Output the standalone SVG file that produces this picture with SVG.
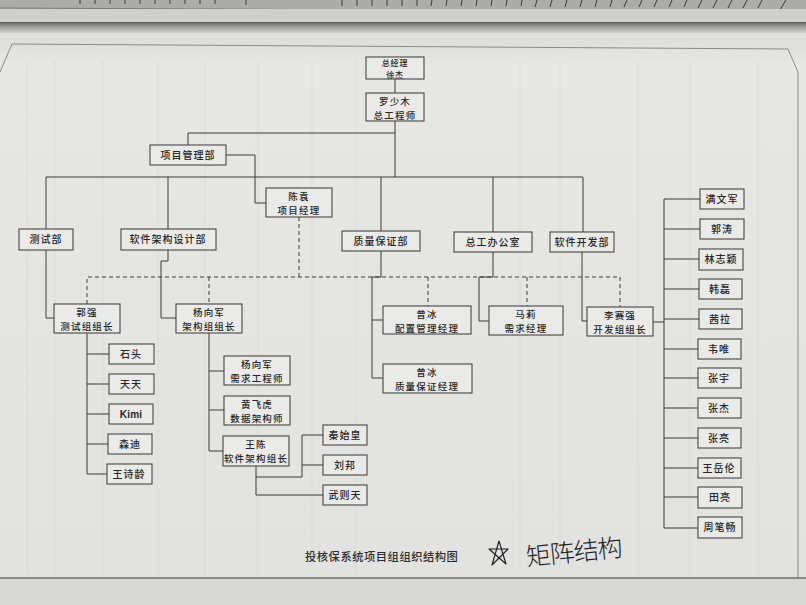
<svg xmlns="http://www.w3.org/2000/svg" width="806" height="605" viewBox="0 0 806 605">
  <defs>
    <linearGradient id="shadow" x1="0" y1="0" x2="0" y2="1">
      <stop offset="0" stop-color="#5e5e5a"/>
      <stop offset="0.35" stop-color="#9a9a96"/>
      <stop offset="1" stop-color="#d8d8d4"/>
    </linearGradient>
    <linearGradient id="page" x1="0" y1="0" x2="0" y2="1">
      <stop offset="0" stop-color="#dcdcd8"/>
      <stop offset="0.06" stop-color="#e7e7e4"/>
      <stop offset="1" stop-color="#e2e2e0"/>
    </linearGradient>
    <style>
      .box { fill: #eaeae8; stroke: #454545; stroke-width: 1.1; }
      .t { font-family: "Noto Sans CJK SC", "Noto Sans", sans-serif; font-weight: 500; font-size: 10px; fill: #262626; text-anchor: middle; letter-spacing: 1px; }
      .t2 { font-size: 9.5px; letter-spacing: 1.2px; }
      .ts { font-size: 8px; letter-spacing: 0.8px; }
      .k { font-family: "Liberation Sans", Arial, sans-serif; font-weight: bold; font-size: 10px; letter-spacing: 0.2px; }
      .ln { fill: none; stroke: #3a3a3a; stroke-width: 1; }
      .dash { fill: none; stroke: #3a3a3a; stroke-width: 1; stroke-dasharray: 4 3; }
      .ghost { stroke: #d4d4d2; stroke-width: 1.2; }
      .tick { stroke: #3a3a3a; stroke-width: 1; }
    </style>
  </defs>

  <!-- paper background -->
  <rect x="0" y="0" width="806" height="605" fill="#d9d9d7"/>
  <rect x="0" y="0" width="806" height="10" fill="#acacaa"/>
  <g class="tick">
    <path d="M80 0v4M95 0v4M110 0v4M125 0v4M140 0v4M155 0v4M170 0v4M185 0v4M200 0v4M215 0v4M246 0v5"/>
    <path d="M342 0v6M357 0v6M372 0v6M387 0v6M402 0v6M417 0v6M432 0l-1 6M447 0l-1 6M462 0l-1 6M477 0l-1 6M492 0l-1 6M507 0l-1 6M522 0l-1 6M537 0l-2 7M552 0l-2 7M567 0l-2 7M582 0l-2 7M597 0l-2 7M612 0l-2 7M627 0l-3 7M642 0l-3 7M657 0l-3 7M672 0l-3 7M687 0l-3 7M702 0l-4 8M717 0l-4 8M732 0l-4 8M747 0l-4 8M762 0l-4 8M786 0l-8 13"/>
  </g>
  <path d="M0 8 L806 12" stroke="#7a7a78" stroke-width="1"/>
  <rect x="0" y="9" width="806" height="14" fill="#cfcfcc"/>
  <rect x="0" y="22" width="806" height="12" fill="url(#shadow)"/>
  <rect x="0" y="33" width="806" height="545" fill="url(#page)"/>

  <!-- faint show-through of the reverse side -->
  <g class="ghost" opacity="0.4">
    <path d="M27 60V575M55 60V575M103 60V575M158 60V575M205 60V575M258 60V575M312 60V575M356 60V575M520 60V575M560 60V575M638 60V575M690 60V575M758 60V575"/>
  </g>

  <!-- page frame -->
  <path d="M0 72 L12 44 L788 49 L798 72 L798 578" fill="none" stroke="#8a8a88" stroke-width="1"/>
  <path d="M0 578 L806 578" stroke="#6e6e6c" stroke-width="1.3"/>
  <rect x="0" y="579" width="806" height="26" fill="#d8d8d6"/>

  <!-- connectors -->
  <g id="connectors">
    <path class="ln" d="M395 79V93"/>
    <path class="ln" d="M395 121V177"/>
    <path class="ln" d="M395 133H188V145"/>
    <path class="ln" d="M226 155H255V203H266"/>
    <path class="ln" d="M46 177H583"/>
    <path class="ln" d="M46 177V229M168 177V229M381 177V231M493 177V232M583 177V232"/>
    <path class="ln" d="M46 250V318H54"/>
    <path class="ln" d="M168 250V261H161V318H176"/>
    <path class="ln" d="M381 251V277H372V378H383M372 320H383"/>
    <path class="ln" d="M493 252V277H479V321H489"/>
    <path class="ln" d="M582 252V321H587"/>
    <path class="ln" d="M653 322H664"/>
    <path class="ln" d="M664 199V528"/>
    <path class="ln" d="M664 199H700M664 229H700M664 259H699M664 289H699M664 319H699M664 349H698M664 378H698M664 408H698M664 438H698M664 468H698M664 497H698M664 528H698"/>
    <path class="ln" d="M87 333V474H107M87 354H109M87 384H109M87 414H109M87 444H108"/>
    <path class="ln" d="M209 333V451H223M209 371H224M209 410H224"/>
    <path class="ln" d="M256 466V495H323M256 477H302V435H323M302 465H323"/>
    <path class="dash" d="M87 304V277H620V307"/>
    <path class="dash" d="M209 277V304M299 217V277M428 277V306M527 277V306"/>
  </g>

  <!-- management -->
  <g id="n-zongjingli"><rect class="box" x="366" y="57" width="58" height="22"/><text class="t ts" x="395" y="66.3">总经理</text><text class="t ts" x="395" y="78">徐杰</text></g>
  <g id="n-luoshaomu"><rect class="box" x="366" y="93" width="58" height="28"/><text class="t t2" x="395" y="104.5">罗少木</text><text class="t t2" x="395" y="118.5">总工程师</text></g>
  <g id="n-xiangmuguanlibu"><rect class="box" x="150" y="145" width="76" height="20"/><text class="t" x="188" y="159">项目管理部</text></g>
  <g id="n-chenyuan"><rect class="box" x="266" y="188" width="66" height="29"/><text class="t t2" x="299" y="199.8">陈袁</text><text class="t t2" x="299" y="213.8">项目经理</text></g>

  <!-- departments -->
  <g id="n-ceshibu"><rect class="box" x="19" y="229" width="54" height="21"/><text class="t" x="46" y="243">测试部</text></g>
  <g id="n-jiagoubu"><rect class="box" x="121" y="229" width="95" height="21"/><text class="t" x="168" y="243">软件架构设计部</text></g>
  <g id="n-zhiliangbu"><rect class="box" x="342" y="231" width="78" height="20"/><text class="t" x="381" y="245">质量保证部</text></g>
  <g id="n-zonggongban"><rect class="box" x="454" y="232" width="78" height="20"/><text class="t" x="493" y="246">总工办公室</text></g>
  <g id="n-kaifabu"><rect class="box" x="550" y="232" width="64" height="20"/><text class="t" x="582" y="246">软件开发部</text></g>

  <!-- group leads and managers -->
  <g id="n-guoqiang"><rect class="box" x="54" y="304" width="66" height="29"/><text class="t t2" x="87" y="315.8">郭强</text><text class="t t2" x="87" y="329.8">测试组组长</text></g>
  <g id="n-yangxiangjun"><rect class="box" x="176" y="304" width="66" height="29"/><text class="t t2" x="209" y="315.8">杨向军</text><text class="t t2" x="209" y="329.8">架构组组长</text></g>
  <g id="n-zengbing-pz"><rect class="box" x="383" y="306" width="88" height="28"/><text class="t t2" x="427" y="317.5">曾冰</text><text class="t t2" x="427" y="331.5">配置管理经理</text></g>
  <g id="n-mali"><rect class="box" x="489" y="306" width="74" height="29"/><text class="t t2" x="526" y="317.8">马莉</text><text class="t t2" x="526" y="331.8">需求经理</text></g>
  <g id="n-lisaiqiang"><rect class="box" x="587" y="307" width="66" height="29"/><text class="t t2" x="620" y="318.8">李赛强</text><text class="t t2" x="620" y="332.8">开发组组长</text></g>
  <g id="n-zengbing-zl"><rect class="box" x="383" y="364" width="89" height="29"/><text class="t t2" x="427" y="375.8">曾冰</text><text class="t t2" x="427" y="389.8">质量保证经理</text></g>

  <!-- test group -->
  <g id="n-shitou"><rect class="box" x="109" y="344" width="45" height="20"/><text class="t" x="131" y="358">石头</text></g>
  <g id="n-tiantian"><rect class="box" x="109" y="374" width="45" height="20"/><text class="t" x="131" y="388">天天</text></g>
  <g id="n-kimi"><rect class="box" x="109" y="404" width="44" height="20"/><text class="t k" x="131" y="418">Kimi</text></g>
  <g id="n-sendi"><rect class="box" x="108" y="434" width="44" height="20"/><text class="t" x="130" y="448">森迪</text></g>
  <g id="n-wangshiling"><rect class="box" x="107" y="464" width="45" height="20"/><text class="t" x="129" y="478">王诗龄</text></g>

  <!-- architecture group -->
  <g id="n-yangxiangjun2"><rect class="box" x="224" y="356" width="66" height="29"/><text class="t t2" x="257" y="367.8">杨向军</text><text class="t t2" x="257" y="381.8">需求工程师</text></g>
  <g id="n-huangfeihu"><rect class="box" x="224" y="396" width="66" height="29"/><text class="t t2" x="257" y="407.8">黄飞虎</text><text class="t t2" x="257" y="421.8">数据架构师</text></g>
  <g id="n-wangchen"><rect class="box" x="223" y="436" width="66" height="30"/><text class="t t2" x="256" y="448.3">王陈</text><text class="t t2" x="256" y="462.3">软件架构组长</text></g>
  <g id="n-qinshihuang"><rect class="box" x="323" y="425" width="44" height="20"/><text class="t" x="345" y="439">秦始皇</text></g>
  <g id="n-liubang"><rect class="box" x="323" y="455" width="44" height="20"/><text class="t" x="345" y="469">刘邦</text></g>
  <g id="n-wuzetian"><rect class="box" x="323" y="485" width="44" height="20"/><text class="t" x="345" y="499">武则天</text></g>

  <!-- development group -->
  <g id="n-manwenjun"><rect class="box" x="700" y="189" width="44" height="20"/><text class="t" x="722" y="203">满文军</text></g>
  <g id="n-guotao"><rect class="box" x="700" y="219" width="44" height="20"/><text class="t" x="722" y="233">郭涛</text></g>
  <g id="n-linzhiying"><rect class="box" x="699" y="249" width="44" height="21"/><text class="t" x="721" y="263">林志颖</text></g>
  <g id="n-hanlei"><rect class="box" x="699" y="279" width="43" height="20"/><text class="t" x="720" y="293">韩磊</text></g>
  <g id="n-xila"><rect class="box" x="699" y="309" width="43" height="20"/><text class="t" x="720" y="323">茜拉</text></g>
  <g id="n-weiwei"><rect class="box" x="698" y="339" width="43" height="20"/><text class="t" x="719" y="353">韦唯</text></g>
  <g id="n-zhangyu"><rect class="box" x="698" y="368" width="43" height="20"/><text class="t" x="719" y="382">张宇</text></g>
  <g id="n-zhangjie"><rect class="box" x="698" y="398" width="43" height="20"/><text class="t" x="719" y="412">张杰</text></g>
  <g id="n-zhangliang"><rect class="box" x="698" y="428" width="43" height="20"/><text class="t" x="719" y="442">张亮</text></g>
  <g id="n-wangyuelun"><rect class="box" x="698" y="458" width="43" height="20"/><text class="t" x="719" y="472">王岳伦</text></g>
  <g id="n-tianliang"><rect class="box" x="698" y="487" width="44" height="21"/><text class="t" x="720" y="501">田亮</text></g>
  <g id="n-zhoubichang"><rect class="box" x="698" y="517" width="44" height="21"/><text class="t" x="720" y="531">周笔畅</text></g>

  <!-- caption -->
  <text x="305" y="561" font-family="'Noto Sans CJK SC', sans-serif" font-weight="500" font-size="11.3" letter-spacing="0.5" fill="#2e2e2e">投核保系统项目组组织结构图</text>

  <!-- pen annotation: star and note -->
  <path d="M499 541 L492 565 L508 549 L489 549 L506 564 Z" fill="none" stroke="#1c1c1c" stroke-width="1.1" stroke-linejoin="round"/>
  <text x="527" y="566" transform="rotate(-6 527 566)" font-family="'Noto Sans CJK SC', sans-serif" font-weight="300" font-size="25" fill="#1e1e1e" letter-spacing="-1">矩阵结构</text>
</svg>
